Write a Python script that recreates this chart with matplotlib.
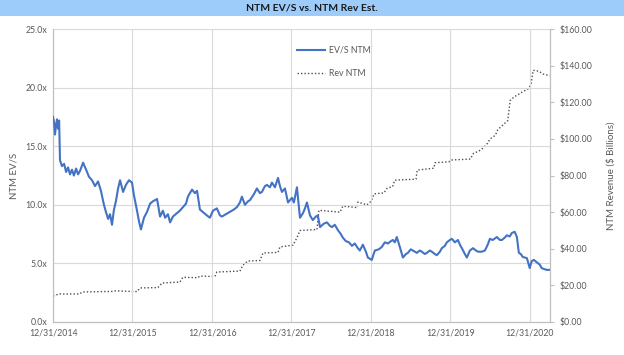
import pandas as pd
import matplotlib.pyplot as plt
import matplotlib.dates as mdates
from matplotlib.ticker import FuncFormatter, MultipleLocator

plt.rcParams['font.family'] = ['Lato', 'DejaVu Sans']

# NTM EV/S multiple (left axis)
evs_dates = [
    '2014-12-31', '2015-01-05', '2015-01-09', '2015-01-14', '2015-01-18', '2015-01-23', '2015-01-28',
    '2015-02-01', '2015-02-10', '2015-02-20', '2015-03-01', '2015-03-10', '2015-03-19', '2015-03-28',
    '2015-04-06', '2015-04-16', '2015-04-25', '2015-05-04', '2015-05-18', '2015-06-01', '2015-06-14',
    '2015-06-28', '2015-07-12', '2015-07-26', '2015-08-08', '2015-08-22', '2015-08-31', '2015-09-10',
    '2015-09-19', '2015-09-28', '2015-10-07', '2015-10-16', '2015-10-26', '2015-11-04', '2015-11-18',
    '2015-12-01', '2015-12-15', '2015-12-29', '2016-01-07', '2016-01-21', '2016-01-30', '2016-02-08',
    '2016-02-22', '2016-03-07', '2016-03-21', '2016-04-03', '2016-04-22', '2016-05-06', '2016-05-19',
    '2016-05-29', '2016-06-11', '2016-06-21', '2016-07-04', '2016-07-23', '2016-08-05', '2016-08-19',
    '2016-09-02', '2016-09-11', '2016-09-20', '2016-09-30', '2016-10-13', '2016-10-23', '2016-11-05',
    '2016-11-24', '2016-12-07', '2016-12-21', '2017-01-04', '2017-01-22', '2017-02-05', '2017-02-14',
    '2017-03-05', '2017-03-23', '2017-04-10', '2017-04-24', '2017-05-08', '2017-05-17', '2017-05-31',
    '2017-06-14', '2017-06-23', '2017-07-11', '2017-07-25', '2017-08-08', '2017-08-17', '2017-08-31',
    '2017-09-09', '2017-09-23', '2017-10-02', '2017-10-16', '2017-10-30', '2017-11-08', '2017-11-17',
    '2017-12-01', '2017-12-15', '2018-01-02', '2018-01-11', '2018-01-25', '2018-02-08', '2018-02-22',
    '2018-03-03', '2018-03-12', '2018-03-26', '2018-04-08', '2018-04-22', '2018-05-01', '2018-05-11',
    '2018-05-29', '2018-06-12', '2018-06-26', '2018-07-05', '2018-07-18', '2018-08-01', '2018-08-15',
    '2018-08-24', '2018-09-07', '2018-09-21', '2018-10-05', '2018-10-18', '2018-11-01', '2018-11-10',
    '2018-11-24', '2018-12-08', '2018-12-17', '2019-01-04', '2019-01-18', '2019-02-05', '2019-02-19',
    '2019-03-05', '2019-03-19', '2019-04-02', '2019-04-11', '2019-04-20', '2019-04-29', '2019-05-13',
    '2019-05-27', '2019-06-10', '2019-06-19', '2019-07-02', '2019-07-12', '2019-07-30', '2019-08-13',
    '2019-08-22', '2019-09-05', '2019-09-14', '2019-09-28', '2019-10-07', '2019-10-21', '2019-10-30',
    '2019-11-13', '2019-11-22', '2019-12-06', '2019-12-15', '2019-12-29', '2020-01-07', '2020-01-21',
    '2020-02-04', '2020-02-13', '2020-02-22', '2020-03-07', '2020-03-16', '2020-03-30', '2020-04-13',
    '2020-04-27', '2020-05-06', '2020-05-24', '2020-06-07', '2020-06-20', '2020-06-30', '2020-07-13',
    '2020-08-01', '2020-08-15', '2020-08-24', '2020-09-06', '2020-09-16', '2020-09-29', '2020-10-09',
    '2020-10-22', '2020-11-01', '2020-11-10', '2020-11-19', '2020-11-28', '2020-12-07', '2020-12-17',
    '2020-12-30', '2021-01-08', '2021-01-18', '2021-01-31', '2021-02-14', '2021-02-23', '2021-03-09',
    '2021-03-18', '2021-04-01',
]
evs_values = [
    17.5, 17.0, 16.0, 16.8, 17.3, 16.5, 17.2,
    13.8, 13.3, 13.5, 12.8, 13.2, 12.6, 13.0,
    12.5, 13.1, 12.6, 12.9, 13.6, 13.0, 12.4,
    12.1, 11.6, 12.0, 11.2, 10.0, 9.4, 8.8,
    9.2, 8.3, 9.6, 10.3, 11.4, 12.1, 11.1,
    11.7, 12.1, 11.9, 10.8, 9.5, 8.6, 7.9,
    8.9, 9.4, 10.1, 10.3, 10.5, 9.0, 9.5,
    8.9, 9.2, 8.5, 9.0, 9.3, 9.5, 9.8,
    10.1, 10.7, 11.0, 11.3, 11.0, 11.2, 9.6,
    9.3, 9.1, 8.9, 9.5, 9.7, 9.1, 9.0,
    9.2, 9.4, 9.6, 9.8, 10.2, 10.7, 10.0,
    10.3, 10.4, 10.9, 11.4, 11.0, 11.1, 11.6,
    11.7, 11.5, 11.9, 11.5, 12.3, 11.6, 11.1,
    11.4, 10.2, 10.6, 10.2, 11.5, 8.9, 9.3,
    9.7, 10.2, 9.1, 8.7, 9.0, 9.1, 8.1,
    8.4, 8.5, 8.2, 8.1, 8.3, 7.85, 7.5,
    7.2, 6.9, 6.8, 6.5, 6.7, 6.3, 6.1,
    6.6, 6.0, 5.5, 5.3, 6.1, 6.2, 6.4,
    6.8, 6.7, 6.9, 7.0, 6.8, 7.25, 6.4,
    5.5, 5.8, 5.9, 6.2, 6.1, 5.9, 6.1,
    6.0, 5.8, 5.9, 6.1, 6.0, 5.8, 5.7,
    6.0, 6.3, 6.5, 6.8, 7.0, 7.1, 6.8,
    7.0, 6.6, 6.3, 5.8, 5.5, 6.1, 6.3,
    6.1, 6.0, 6.0, 6.1, 6.6, 7.1, 7.0,
    7.25, 7.0, 7.0, 7.2, 7.4, 7.3, 7.6,
    7.7, 7.25, 5.9, 5.8, 5.55, 5.5, 5.45,
    4.6, 5.2, 5.3, 5.1, 4.9, 4.6, 4.5,
    4.45, 4.45,
]

# NTM revenue estimate, $ billions (right axis)
rev_dates = [
    '2014-12-31', '2015-01-10', '2015-01-25', '2015-05-01', '2015-05-15', '2015-10-01', '2015-10-15',
    '2016-01-21', '2016-02-05', '2016-04-26', '2016-05-15', '2016-08-05', '2016-08-19', '2016-10-27',
    '2016-11-05', '2017-01-13', '2017-01-22', '2017-05-08', '2017-05-22', '2017-06-14', '2017-08-08',
    '2017-08-22', '2017-10-30', '2017-11-08', '2018-01-07', '2018-01-25', '2018-02-08', '2018-04-27',
    '2018-05-06', '2018-08-11', '2018-08-24', '2018-10-28', '2018-11-01', '2018-12-13', '2019-01-01',
    '2019-01-15', '2019-03-01', '2019-03-15', '2019-04-10', '2019-04-20', '2019-07-26', '2019-08-01',
    '2019-10-16', '2019-10-22', '2019-12-24', '2020-01-05', '2020-04-01', '2020-04-15', '2020-05-20',
    '2020-06-15', '2020-07-01', '2020-07-25', '2020-08-05', '2020-09-01', '2020-09-20', '2020-10-01',
    '2020-10-20', '2020-11-10', '2020-12-01', '2020-12-25', '2021-01-05', '2021-01-15', '2021-02-10',
    '2021-03-01', '2021-04-01',
]
rev_values = [
    14.2, 14.5, 15.3, 15.3, 16.4, 16.7, 17.0,
    16.6, 18.6, 18.8, 21.3, 21.8, 24.4, 24.2,
    25.1, 24.8, 27.3, 27.8, 31.1, 33.3, 33.6,
    37.7, 38.0, 41.0, 42.0, 46.0, 50.0, 50.5,
    61.0, 60.0, 63.3, 62.5, 65.5, 64.0, 66.0,
    70.0, 70.5, 73.0, 74.0, 77.5, 78.0, 83.0,
    84.0, 87.0, 87.5, 88.5, 89.0, 92.0, 94.0,
    97.0, 100.0, 102.0, 105.0, 108.0, 110.0, 121.0,
    123.0, 124.5, 126.0, 127.5, 130.0, 137.5, 137.0,
    135.5, 134.5,
]

year_ticks = ['2014-12-31', '2015-12-31', '2016-12-31', '2017-12-31',
              '2018-12-31', '2019-12-31', '2020-12-31']

label_col = '#595959'
grid_col = '#d9d9d9'

fig = plt.figure(figsize=(6.24, 3.55), dpi=100)

# title bar
bar = fig.add_axes([0, 0.955, 1, 0.045])
bar.set_facecolor('#9dcbfa')
bar.set_xticks([])
bar.set_yticks([])
for s in bar.spines.values():
    s.set_visible(False)
bar.text(0.5, 0.5, 'NTM EV/S vs. NTM Rev Est.', ha='center', va='center',
         fontsize=7.5, fontweight='bold', color='#1a1a1a', transform=bar.transAxes)

ax = fig.add_axes([0.085, 0.093, 0.796, 0.825])
ax2 = ax.twinx()

l1, = ax.plot(pd.to_datetime(evs_dates), evs_values, color='#4472c4', linewidth=1.5,
              label='EV/S NTM', zorder=3)
l2, = ax2.plot(pd.to_datetime(rev_dates), rev_values, color='#4d4d4d', linewidth=1.0,
               linestyle=(0, (1, 1.5)), label='Rev NTM')

ax.set_zorder(ax2.get_zorder() + 1)
ax.patch.set_visible(False)

ax.set_xlim(pd.Timestamp('2014-12-31'), pd.Timestamp('2021-04-01'))
ax.set_ylim(0, 25)
ax2.set_ylim(0, 160)
ax.yaxis.set_major_locator(MultipleLocator(5))
ax2.yaxis.set_major_locator(MultipleLocator(20))
ax.yaxis.set_major_formatter(FuncFormatter(lambda v, p: f'{v:.1f}x'))
ax2.yaxis.set_major_formatter(FuncFormatter(lambda v, p: f'${v:.2f}'))
ax.set_xticks(pd.to_datetime(year_ticks))
ax.xaxis.set_major_formatter(mdates.DateFormatter('%m/%d/%Y'))

ax.grid(True, color=grid_col, linewidth=0.8)
ax.tick_params(axis='both', length=0, labelsize=6.3, colors=label_col, pad=4)
ax2.tick_params(axis='y', length=3, labelsize=6.3, colors=label_col, width=0.8,
                color='#bfbfbf', pad=4)
ax.tick_params(axis='x', pad=5)

for a in (ax, ax2):
    for s in a.spines.values():
        s.set_color('#bfbfbf')
        s.set_linewidth(0.8)
    a.spines['top'].set_visible(False)

ax.set_ylabel('NTM EV/S', fontsize=7, color=label_col, labelpad=5)
ax2.set_ylabel('NTM Revenue ($ Billions)', fontsize=7, color=label_col, labelpad=10)

ax.legend(handles=[l1, l2], loc='upper left', bbox_to_anchor=(0.475, 0.97),
          frameon=False, fontsize=6.3, labelcolor=label_col, handlelength=3.2,
          labelspacing=1.6, handletextpad=0.5)

plt.savefig('out.png', dpi=100)
